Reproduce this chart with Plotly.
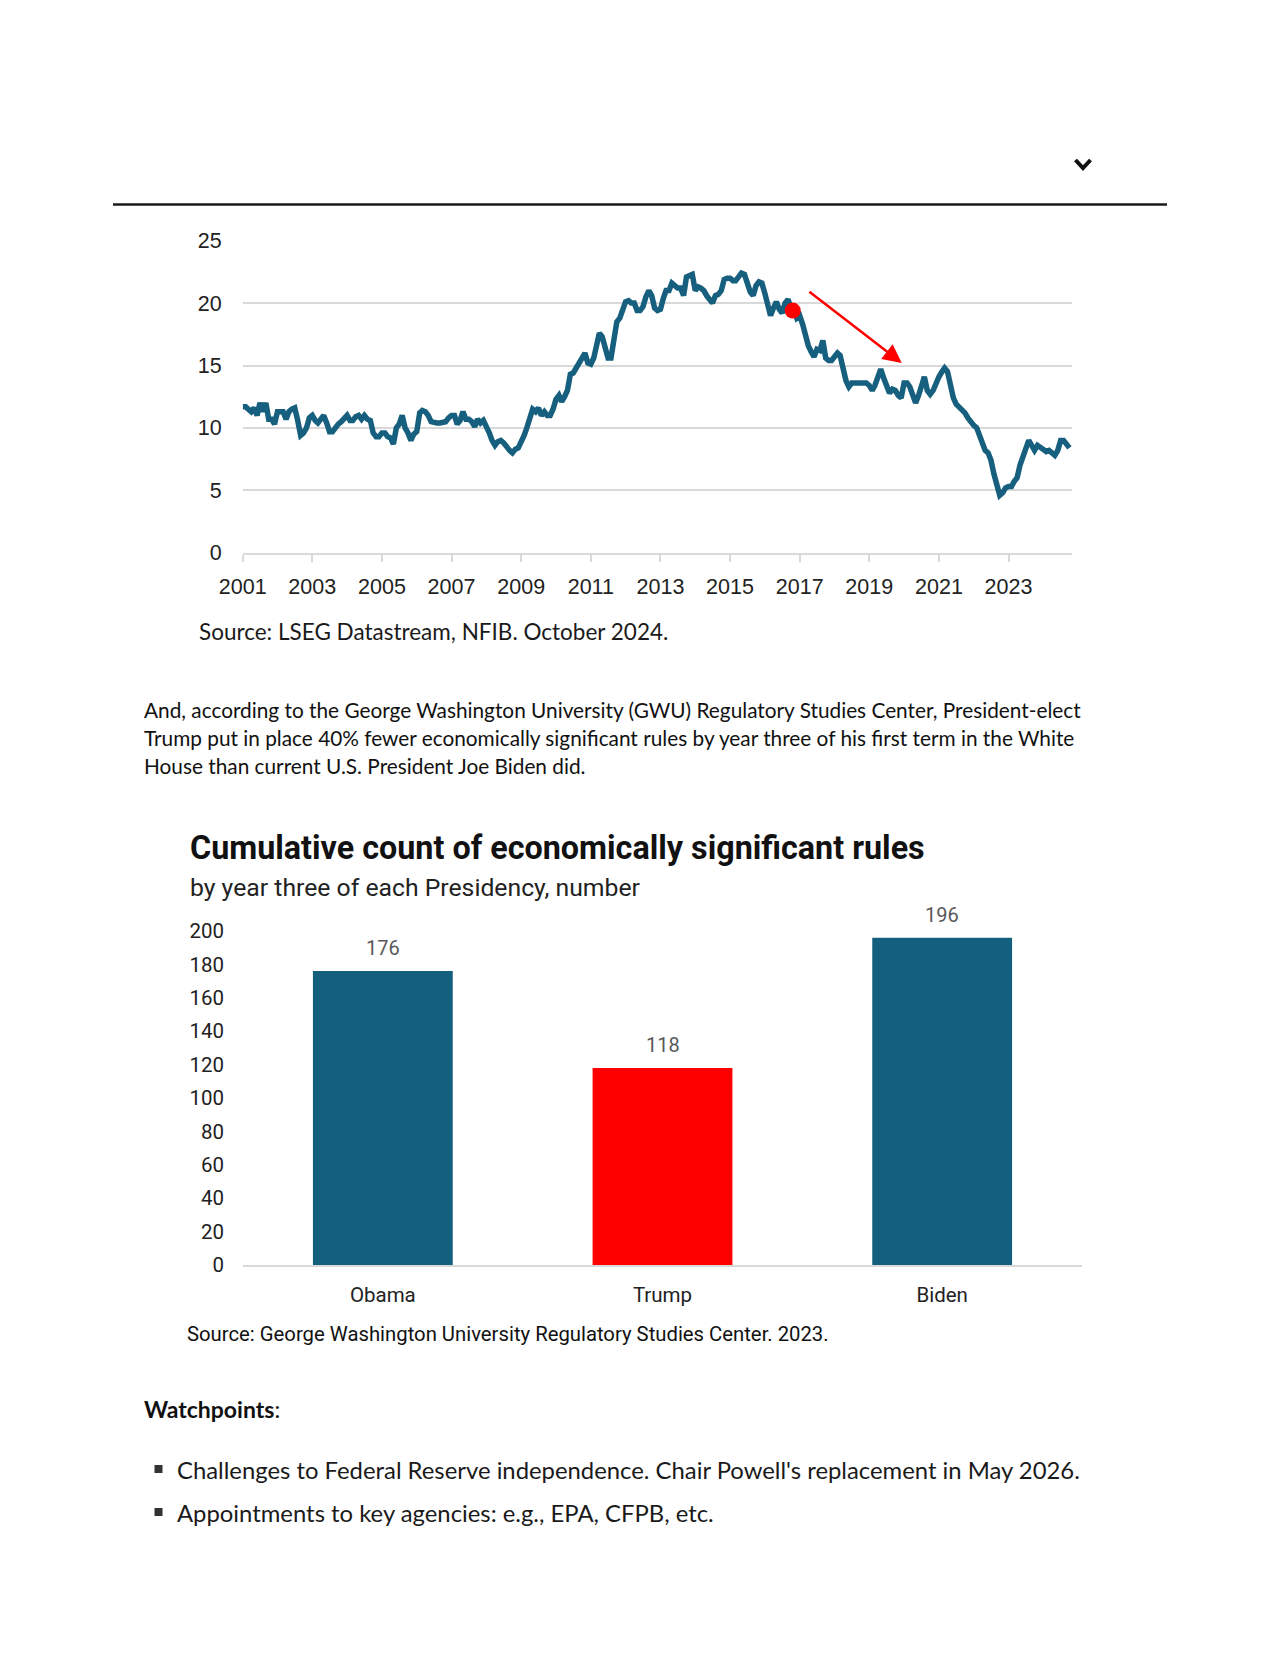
import plotly.graph_objects as go
import pandas as pd

# ---------------- data ----------------
nfib_start = "2001-01-01"
nfib_values = [
    11.7, 11.7, 11.5, 11.3, 11.6, 11.0, 12.0, 11.3, 12.0, 10.7, 10.7, 10.3,  # 2001
    11.3, 11.3, 11.3, 10.7, 11.3, 11.5, 11.6, 10.6, 9.4, 9.6, 10.0, 10.8,    # 2002
    11.0, 10.6, 10.4, 10.7, 11.0, 10.4, 9.7, 9.7, 10.1, 10.3, 10.5, 10.8,    # 2003
    11.0, 10.6, 10.6, 10.9, 11.0, 10.7, 11.0, 10.7, 10.6, 9.6, 9.3, 9.3,     # 2004
    9.6, 9.6, 9.3, 9.2, 8.7, 10.0, 10.3, 11.0, 10.0, 9.6, 9.0, 9.5,          # 2005
    9.7, 11.2, 11.4, 11.3, 11.0, 10.5, 10.4, 10.4, 10.4, 10.4, 10.5, 10.8,   # 2006
    11.0, 11.0, 10.3, 10.6, 11.3, 10.7, 10.7, 10.5, 10.1, 10.7, 10.4, 10.6,  # 2007
    10.2, 9.6, 9.0, 8.6, 8.9, 9.0, 8.8, 8.4, 8.2, 8.0, 8.3, 8.4,             # 2008
    8.8, 9.4, 10.0, 11.0, 11.5, 11.3, 11.6, 11.0, 11.3, 11.0, 11.0, 11.5,    # 2009
    12.3, 12.6, 12.1, 12.5, 13.0, 14.3, 14.4, 14.8, 15.2, 15.7, 16.0, 15.2,  # 2010
    15.1, 15.6, 16.8, 17.6, 17.3, 16.2, 15.6, 15.6, 17.2, 18.5, 18.8, 19.6,  # 2011
    20.1, 20.2, 20.0, 20.0, 19.4, 19.4, 19.7, 20.5, 21.0, 20.6, 19.6, 19.4,  # 2012
    19.5, 20.4, 21.0, 21.0, 21.6, 21.4, 21.2, 21.2, 20.6, 22.1, 22.2, 22.3,  # 2013
    21.0, 21.3, 21.2, 21.0, 20.6, 20.2, 20.0, 20.6, 20.7, 21.0, 21.9, 22.0,  # 2014
    22.0, 21.8, 21.8, 22.1, 22.4, 22.3, 21.7, 20.9, 20.6, 21.4, 21.7, 21.6,  # 2015
    20.8, 19.8, 19.0, 19.6, 20.1, 19.5, 19.2, 20.0, 20.3, 19.6, 19.4, 18.8,  # 2016
    19.0, 18.3, 17.4, 16.6, 16.1, 15.7, 16.3, 16.2, 17.0, 15.6, 15.4, 15.4,  # 2017
    15.7, 16.0, 15.8, 14.8, 13.8, 13.3, 13.6, 13.6, 13.6, 13.6, 13.6, 13.6,  # 2018
    13.4, 13.0, 13.4, 14.0, 14.7, 14.0, 13.4, 12.8, 13.1, 13.0, 12.6, 12.4,  # 2019
    13.6, 13.6, 13.3, 12.5, 12.0, 12.6, 13.3, 14.1, 13.0, 12.7, 13.0, 13.6,  # 2020
    14.1, 14.5, 14.8, 14.5, 13.4, 12.4, 11.9, 11.7, 11.5, 11.2, 10.8, 10.4,  # 2021
    10.2, 10.0, 9.4, 8.7, 8.2, 8.0, 7.4, 6.3, 5.3, 4.6, 4.8, 5.2,            # 2022
    5.3, 5.3, 5.7, 6.0, 7.0, 7.7, 8.4, 9.0, 8.6, 8.2, 8.6, 8.4,              # 2023
    8.3, 8.1, 8.2, 8.0, 7.8, 8.2, 9.0, 9.0, 8.6, 8.4,                        # 2024
]
line_tick_years = [2001, 2003, 2005, 2007, 2009, 2011, 2013, 2015, 2017, 2019, 2021, 2023]
line_y_ticks = [0, 5, 10, 15, 20, 25]
red_dot_date = "2016-10-20"
red_dot_value = 19.4
arrow_tail = ("2017-03-28", 21.0)
arrow_tip = ("2019-12-08", 15.2)

presidents = ["Obama", "Trump", "Biden"]
rule_counts = [176, 118, 196]
bar_colors = ["#155f7e", "#ff0000", "#155f7e"]
bar_y_ticks = [0, 20, 40, 60, 80, 100, 120, 140, 160, 180, 200]

source_1 = "Source: LSEG Datastream, NFIB. October 2024."
paragraph_lines = [
    "And, according to the George Washington University (GWU) Regulatory Studies Center, President-elect",
    "Trump put in place 40% fewer economically significant rules by year three of his first term in the White",
    "House than current U.S. President Joe Biden did.",
]
bar_title = "Cumulative count of economically significant rules"
bar_subtitle = "by year three of each Presidency, number"
source_2 = "Source: George Washington University Regulatory Studies Center. 2023."
watch_title = "Watchpoints"
watch_items = [
    "Challenges to Federal Reserve independence. Chair Powell's replacement in May 2026.",
    "Appointments to key agencies: e.g., EPA, CFPB, etc.",
]

# ---------------- layout helpers ----------------
# page is 1280x1656; the html body keeps its default 8px margin,
# so the figure is 1264x1640 and page coordinates are offset by 8px.
PAGE_W, PAGE_H = 1280, 1656
OFF = 8
W, H = PAGE_W - 2 * OFF, PAGE_H - 2 * OFF
def px(x):
    return (x - OFF) / W
def py(y):
    return 1 - (y - OFF) / H

dates = pd.date_range(nfib_start, periods=len(nfib_values), freq="MS")

LINE_COLOR = "#175f7e"
GRID = "#d9d9d9"
TICK_FONT = dict(family="Liberation Sans, Arial, sans-serif", size=21.5, color="#222222")
BAR_FONT = "Roboto, sans-serif"
TEXT_FONT = "Lato, sans-serif"

fig = go.Figure()

fig.add_trace(go.Scatter(
    x=dates, y=nfib_values, mode="lines",
    line=dict(color=LINE_COLOR, width=5.5),
    xaxis="x", yaxis="y", showlegend=False, hoverinfo="skip",
))
fig.add_trace(go.Scatter(
    x=[red_dot_date], y=[red_dot_value], mode="markers",
    marker=dict(color="#ff0000", size=16),
    xaxis="x", yaxis="y", showlegend=False, hoverinfo="skip",
))
fig.add_trace(go.Bar(
    x=presidents, y=rule_counts, marker=dict(color=bar_colors, line=dict(width=0)),
    xaxis="x2", yaxis="y2", showlegend=False, hoverinfo="skip",
))

annotations = []
annotations.append(dict(
    x=arrow_tip[0], y=arrow_tip[1], ax=arrow_tail[0], ay=arrow_tail[1],
    xref="x", yref="y", axref="x", ayref="y", text="", showarrow=True,
    arrowhead=2, arrowsize=1.5, arrowwidth=2.5, arrowcolor="#ff0000", standoff=0,
))
for p, v in zip(presidents, rule_counts):
    annotations.append(dict(
        x=p, y=v, xref="x2", yref="y2", text=str(v), showarrow=False,
        yanchor="bottom", yshift=9, font=dict(family=BAR_FONT, size=20, color="#595959"),
    ))

def text_ann(x, y, text, family, size, color="#1a1a1a", bold=False):
    t = f"<b>{text}</b>" if bold else text
    annotations.append(dict(
        x=px(x), y=py(y), xref="paper", yref="paper", text=t, showarrow=False,
        xanchor="left", yanchor="middle", font=dict(family=family, size=size, color=color),
    ))

text_ann(197, 631.5, source_1, TEXT_FONT, 22.5, "#1a1a1a")
for i, line in enumerate(paragraph_lines):
    text_ann(142, 709.7 + i * 27.9, line, TEXT_FONT, 20.8, "#111111")
text_ann(188, 848, bar_title, BAR_FONT, 32.3, "#111111", bold=True)
text_ann(188, 887, bar_subtitle, BAR_FONT, 24.75, "#222222")
text_ann(185, 1334, source_2, BAR_FONT, 20.3, "#111111")
text_ann(142, 1409, f"<b>{watch_title}</b>:", TEXT_FONT, 23, "#111111")
for i, item in enumerate(watch_items):
    text_ann(175, 1469 + i * 43, item, TEXT_FONT, 23.85, "#1a1a1a")

shapes = []
shapes.append(dict(type="line", xref="paper", yref="paper",
                   x0=px(113), x1=px(1167), y0=py(204.5), y1=py(204.5),
                   line=dict(color="#1a1a1a", width=2.5)))
shapes.append(dict(type="path", xref="paper", yref="paper",
                   path=f"M {px(1075.5)} {py(160)} L {px(1083)} {py(168)} L {px(1090.5)} {py(160)}",
                   line=dict(color="#111111", width=4)))
for i in range(len(watch_items)):
    yc = 1469 + i * 43
    shapes.append(dict(type="rect", xref="paper", yref="paper",
                       x0=px(154.5), x1=px(162.5), y0=py(yc - 4), y1=py(yc + 4),
                       fillcolor="#333333", line=dict(width=0)))

fig.update_layout(
    template="none",
    width=W, height=H,
    margin=dict(l=0, r=0, t=0, b=0, pad=0, autoexpand=False),
    paper_bgcolor="white", plot_bgcolor="white",
    bargap=0.5,
    showlegend=False,
    xaxis=dict(
        domain=[px(242.7), px(1072)], anchor="y", automargin=False,
        type="date", range=["2001-01-01", "2024-10-28"],
        tickvals=[f"{y}-01-01" for y in line_tick_years],
        ticktext=[str(y) for y in line_tick_years],
        ticks="outside", ticklen=7, tickwidth=1.5, tickcolor=GRID,
        showline=True, linecolor=GRID, linewidth=2,
        showgrid=False, zeroline=False,
        tickfont=TICK_FONT, ticklabelstandoff=6,
    ),
    yaxis=dict(
        domain=[py(552.7), py(240.7)], anchor="x", automargin=False,
        range=[0, 25], tickvals=line_y_ticks,
        showgrid=True, gridcolor=GRID, gridwidth=1.5,
        zeroline=False, showline=False, ticks="",
        tickfont=TICK_FONT, ticklabelstandoff=20,
    ),
    xaxis2=dict(
        domain=[px(243), px(1082)], anchor="y2", automargin=False,
        showline=True, linecolor=GRID, linewidth=1.5,
        showgrid=False, zeroline=False, ticks="",
        tickfont=dict(family=BAR_FONT, size=20.5, color="#222222"),
        ticklabelstandoff=11,
    ),
    yaxis2=dict(
        domain=[py(1265), py(931)], anchor="x2", automargin=False,
        range=[0, 200], tickvals=bar_y_ticks,
        showgrid=False, zeroline=False, showline=False, ticks="",
        tickfont=dict(family=BAR_FONT, size=20.5, color="#222222"),
        ticklabelstandoff=18,
    ),
    annotations=annotations,
    shapes=shapes,
)

fig.write_html("out.html", config={"displayModeBar": False})
